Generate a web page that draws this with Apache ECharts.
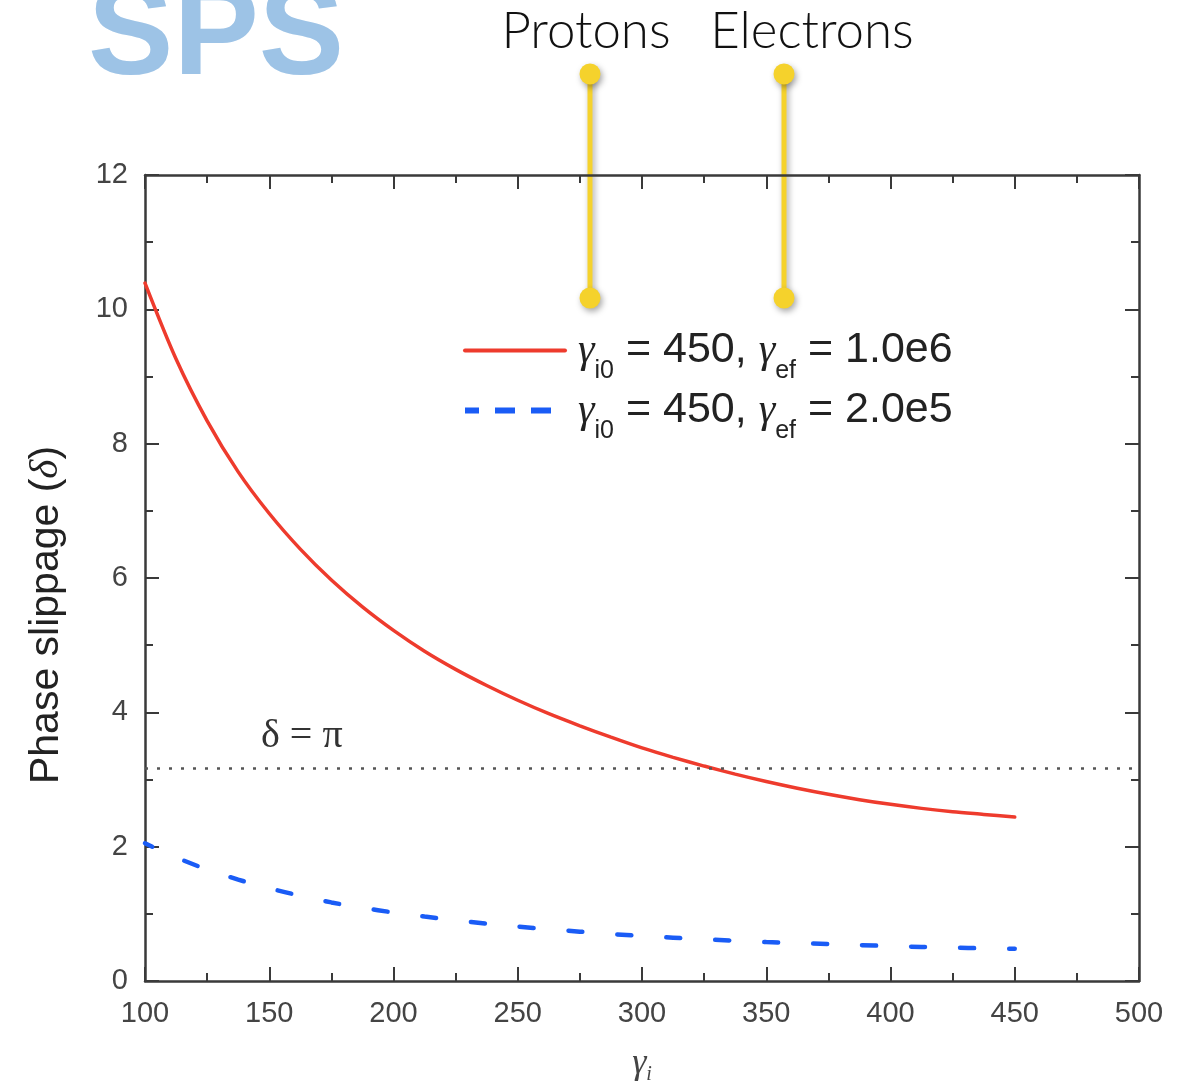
<!DOCTYPE html>
<html><head><meta charset="utf-8">
<script src="https://cdn.jsdelivr.net/npm/echarts@6/dist/echarts.min.js"></script>
<style>html,body{margin:0;padding:0;background:#fff}#c{width:1179px;height:1086px}</style>
</head><body><div id="c"></div>
<script>
// ---- data ----
const gammaI   = [100, 112.5, 125, 137.5, 150, 162.5, 175, 187.5, 200, 212.5, 225, 237.5, 250, 262.5, 275,
                  287.5, 300, 312.5, 325, 337.5, 350, 362.5, 375, 387.5, 400, 412.5, 425, 437.5, 450];
const slipRed  = [10.39, 9.26, 8.34, 7.58, 6.96, 6.43, 5.97, 5.57, 5.22, 4.91, 4.64, 4.40, 4.18, 3.98, 3.80,
                  3.63, 3.47, 3.33, 3.20, 3.08, 2.97, 2.87, 2.78, 2.70, 2.63, 2.57, 2.52, 2.48, 2.44];
const slipBlue = [2.05, 1.84, 1.66, 1.51, 1.38, 1.27, 1.17, 1.09, 1.02, 0.96, 0.905, 0.855, 0.81, 0.77, 0.735,
                  0.70, 0.67, 0.645, 0.62, 0.60, 0.58, 0.565, 0.55, 0.535, 0.52, 0.507, 0.496, 0.487, 0.48];
const seriesNames = ['γi0 = 450, γef = 1.0e6', 'γi0 = 450, γef = 2.0e5'];
const piLevel = 3.17;
const xRange = [100, 500], xStep = 50;
const yRange = [0, 12], yStep = 2;

const pairs = (xs, ys) => xs.map((x, i) => [x, ys[i]]);
const axisCol = '#3a3a3a';
const sans = 'Liberation Sans, Arial, Helvetica, sans-serif';
const serif = 'Liberation Serif, Times New Roman, serif';

function axisBase(extra) {
  return Object.assign({
    type: 'value',
    axisLine: { show: true, onZero: false, lineStyle: { color: axisCol, width: 2.5 } },
    axisTick: { show: true, inside: true, length: 14, lineStyle: { color: axisCol, width: 2 } },
    minorTick: { show: true, splitNumber: 2, length: 8, lineStyle: { color: axisCol, width: 2 } },
    splitLine: { show: false },
    minorSplitLine: { show: false }
  }, extra);
}

const chart = echarts.init(document.getElementById('c'), null, { renderer: 'canvas' });
const option = {
  animation: false,
  backgroundColor: '#fff',
  grid: { left: 145, right: 40, top: 175, bottom: 105, containLabel: false, outerBoundsMode: 'none' },
  xAxis: [
    axisBase({
      position: 'bottom', min: xRange[0], max: xRange[1], interval: xStep,
      axisLabel: { fontSize: 29, color: '#444', margin: 18, fontFamily: sans },
      name: '{g|γ}{s|i}', nameLocation: 'middle', nameGap: 62,
      nameTextStyle: {
        rich: {
          g: { fontSize: 36, fontFamily: serif, fontStyle: 'italic', color: '#444' },
          s: { fontSize: 20, fontFamily: serif, fontStyle: 'italic', color: '#444', padding: [22, 0, 0, 0] }
        }
      }
    }),
    axisBase({
      position: 'top', min: xRange[0], max: xRange[1], interval: xStep,
      axisLabel: { show: false }
    })
  ],
  yAxis: [
    axisBase({
      position: 'left', min: yRange[0], max: yRange[1], interval: yStep,
      axisLabel: { fontSize: 29, color: '#444', margin: 17, fontFamily: sans },
      name: '{t|Phase slippage (}{d|δ}{t|)}', nameLocation: 'middle', nameGap: 78, nameRotate: 90,
      nameTextStyle: {
        padding: [0, 74, 0, 0],
        rich: {
          t: { fontSize: 41, fontFamily: sans, color: '#222' },
          d: { fontSize: 41, fontFamily: serif, fontStyle: 'italic', color: '#222' }
        }
      }
    }),
    axisBase({
      position: 'right', min: yRange[0], max: yRange[1], interval: yStep,
      axisLabel: { show: false }
    })
  ],
  legend: {
    orient: 'vertical', left: 462, top: 317, padding: 0,
    itemWidth: 100, itemHeight: 20, itemGap: -7,
    itemStyle: { opacity: 0 },
    data: [
      { name: seriesNames[0], lineStyle: { width: 4 }, itemStyle: { opacity: 0 } },
      { name: seriesNames[1], lineStyle: { type: [20, 16], width: 6, cap: 'butt' }, itemStyle: { opacity: 0 } }
    ],
    formatter: function (name) {
      const ef = name.split('= ').pop();
      return '{g|γ}{s|i0}{t| = 450, }{g|γ}{s|ef}{t| = ' + ef + '}';
    },
    textStyle: {
      padding: [0, 0, 0, 8],
      rich: {
        t: { fontSize: 43, fontFamily: sans, color: '#222', lineHeight: 42 },
        g: { fontSize: 42, fontFamily: serif, fontStyle: 'italic', color: '#222', lineHeight: 42 },
        s: { fontSize: 25, fontFamily: sans, color: '#222', lineHeight: 26, padding: [42, 0, 0, 0] }
      }
    }
  },
  series: [
    {
      name: seriesNames[0], type: 'line', data: pairs(gammaI, slipRed),
      smooth: 0.3, symbol: 'none',
      lineStyle: { color: '#ee3b2d', width: 3.5, cap: 'round' },
      itemStyle: { color: '#ee3b2d' },
      markLine: {
        silent: true, symbol: ['none', 'none'],
        lineStyle: { color: '#555', type: [3, 9], width: 2.5 },
        label: {
          show: true, position: 'insideStartTop', formatter: 'δ = π',
          fontSize: 40, fontFamily: serif, color: '#333', distance: 12,
          padding: [0, 0, 0, 104]
        },
        data: [{ yAxis: piLevel }]
      }
    },
    {
      name: seriesNames[1], type: 'line', data: pairs(gammaI, slipBlue),
      smooth: 0.3, symbol: 'none',
      lineStyle: { color: '#1a5cf6', width: 4.5, type: [14, 35], dashOffset: 6, cap: 'round' },
      itemStyle: { color: '#1a5cf6' }
    }
  ],
  graphic: [
    { type: 'text', left: 88, top: -25, z: 10,
      style: { text: 'SPS', font: 'bold 128px ' + sans, fill: '#9dc3e6' } },
    { type: 'text', x: 586, y: 32, z: 10,
      style: { text: 'Protons', font: '300 51px Lato, ' + sans, fill: '#111', textAlign: 'center', textVerticalAlign: 'middle' } },
    { type: 'text', x: 812, y: 32, z: 10,
      style: { text: 'Electrons', font: '300 51px Lato, ' + sans, fill: '#111', textAlign: 'center', textVerticalAlign: 'middle' } },
    { type: 'group', z: 20, children: [590, 784].map(function (px) {
        return { type: 'group', children: [
          { type: 'line', shape: { x1: px, y1: 74, x2: px, y2: 298 },
            style: { stroke: '#f5d22c', lineWidth: 5, shadowBlur: 6, shadowColor: 'rgba(0,0,0,0.35)', shadowOffsetX: 2, shadowOffsetY: 2 } },
          { type: 'circle', shape: { cx: px, cy: 74, r: 10.5 },
            style: { fill: '#f5d22c', shadowBlur: 6, shadowColor: 'rgba(0,0,0,0.35)', shadowOffsetX: 2, shadowOffsetY: 3 } },
          { type: 'circle', shape: { cx: px, cy: 298, r: 10.5 },
            style: { fill: '#f5d22c', shadowBlur: 6, shadowColor: 'rgba(0,0,0,0.35)', shadowOffsetX: 2, shadowOffsetY: 3 } }
        ] };
      }) }
  ]
};
chart.setOption(option);
</script>
</body></html>
